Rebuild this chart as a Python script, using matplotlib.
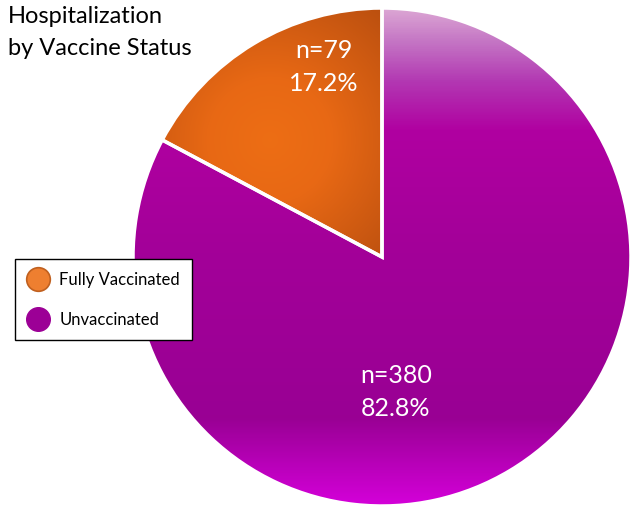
import numpy as np
import matplotlib
matplotlib.use("Agg")
import matplotlib.pyplot as plt
from matplotlib.colors import LinearSegmentedColormap
from matplotlib.lines import Line2D

plt.rcParams['font.family'] = ['Lato', 'DejaVu Sans']

# data
labels = ["Fully Vaccinated", "Unvaccinated"]
counts = [79, 380]
pcts = [17.2, 82.8]
title = "Hospitalization\nby Vaccine Status"

W, H = 630, 508
fig = plt.figure(figsize=(W / 100, H / 100), dpi=100)

# pie axes: center (382,257) px, radius 249 px
cx, cy, r = 382, 257, 249
ax = fig.add_axes([(cx - r) / W, (H - cy - r) / H, 2 * r / W, 2 * r / H])

wedges, _ = ax.pie(counts, startangle=90, counterclock=True, radius=1,
                   colors=['#e76a16', '#a6009c'],
                   wedgeprops=dict(edgecolor='white', linewidth=2.5))

# gradient fills clipped to wedges
n = 600
xs = np.linspace(-1, 1, n)
ys = np.linspace(1, -1, n)
X, Y = np.meshgrid(xs, ys)

purple = LinearSegmentedColormap.from_list("pu", [
    (0.0, (0.83, 0.0, 0.85)),
    (0.175, (0.60, 0.0, 0.58)),
    (0.515, (0.64, 0.0, 0.60)),
    (0.755, (0.69, 0.0, 0.63)),
    (0.855, (0.70, 0.22, 0.70)),
    (0.935, (0.77, 0.46, 0.77)),
    (1.0, (0.86, 0.65, 0.83)),
])
orange = LinearSegmentedColormap.from_list("or", [
    (0.0, (0.93, 0.43, 0.08)),
    (0.35, (0.91, 0.41, 0.08)),
    (1.0, (0.73, 0.31, 0.06)),
])

D = np.sqrt((X + 0.45) ** 2 + (Y - 0.47) ** 2)
im_o = ax.imshow(D, cmap=orange, vmin=0, vmax=0.7, extent=[-1, 1, -1, 1],
                 origin='upper', zorder=1, interpolation='bilinear')
im_o.set_clip_path(wedges[0])
im_p = ax.imshow((Y + 1) / 2, cmap=purple, vmin=0, vmax=1, extent=[-1, 1, -1, 1],
                 origin='upper', zorder=1, interpolation='bilinear')
im_p.set_clip_path(wedges[1])

for w in wedges:
    w.set_facecolor('none')
    w.set_zorder(2)

ax.set_xlim(-1, 1)
ax.set_ylim(-1, 1)
ax.set_aspect('equal')
ax.axis('off')

label_pos = [(-0.233, 0.763), (0.056, -0.542)]
for (tx, ty), c, p in zip(label_pos, counts, pcts):
    ax.text(tx, ty, f"n={c}\n{p:.1f}%", color='white', fontsize=18,
            ha='center', va='center', linespacing=1.55, zorder=3)

fig.text(8 / W, 1 - 6 / H, title, fontsize=17, ha='left', va='top',
         linespacing=1.65, color='black')

handles = [
    Line2D([], [], linestyle='none', marker='o', markersize=17,
           markerfacecolor='#ee7f30', markeredgecolor='#c0601f', markeredgewidth=1.2),
    Line2D([], [], linestyle='none', marker='o', markersize=17,
           markerfacecolor='#9c0096', markeredgecolor='#9c0096'),
]
leg = fig.legend(handles, labels, loc='upper left',
                 bbox_to_anchor=(15 / W, 1 - 259 / H), borderaxespad=0,
                 fontsize=12, fancybox=False, framealpha=1,
                 edgecolor='black', handlelength=1.3, handletextpad=0.6,
                 labelspacing=1.45, borderpad=0.75)
leg.get_frame().set_linewidth(1.0)

fig.savefig("out.png", dpi=100)
